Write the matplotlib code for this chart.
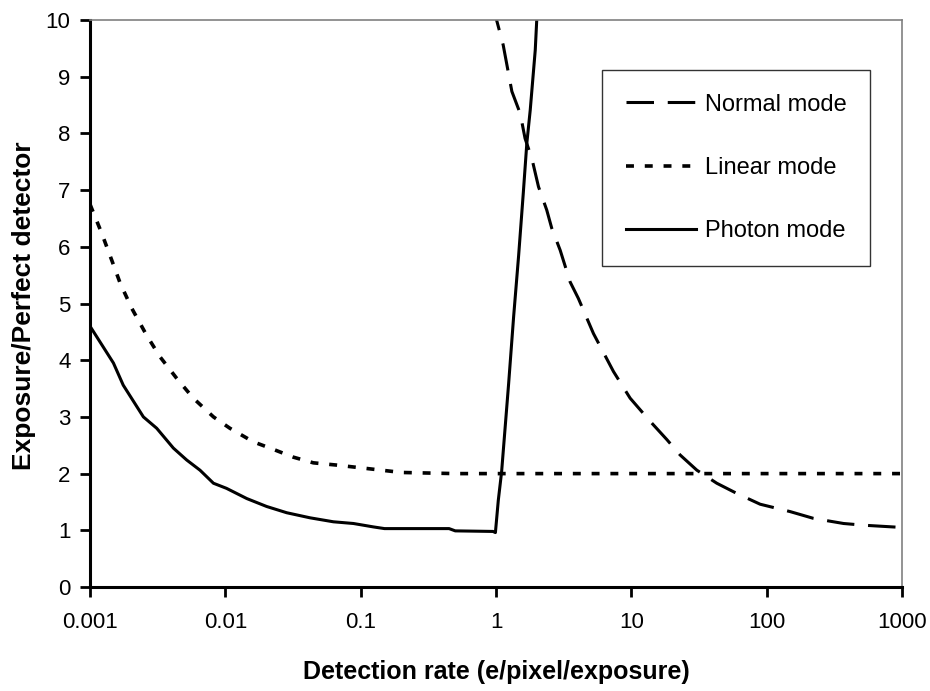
import numpy as np
import matplotlib
matplotlib.use("Agg")
import matplotlib.pyplot as plt
from matplotlib.ticker import FixedLocator, FixedFormatter, NullLocator

plt.rcParams['font.family'] = ['Liberation Sans', 'DejaVu Sans']

# values (x = detection rate, y = exposure / perfect detector)
normal_x = [1.0, 1.01, 1.13, 1.31, 1.51, 1.64, 1.84, 2.06, 2.37, 2.58, 2.98, 3.53, 4.06,
            5.25, 7.38, 9.8, 13.8, 18.3, 22.9, 30.5, 42.8, 60.2, 89.5, 149, 222, 370, 519, 1000]
normal_y = [10.3, 10.0, 9.56, 8.74, 8.35, 7.91, 7.56, 7.06, 6.65, 6.33, 5.94, 5.38, 5.09,
            4.47, 3.80, 3.33, 2.92, 2.60, 2.33, 2.06, 1.83, 1.65, 1.46, 1.33, 1.21, 1.12, 1.09, 1.05]

linear_x = [0.001, 0.00122, 0.00146, 0.00167, 0.00203, 0.00262, 0.00329, 0.00437, 0.0058,
            0.00817, 0.0108, 0.0161, 0.0214, 0.0318, 0.0447, 0.0666, 0.111, 0.2, 0.5, 1, 10, 100, 1000]
linear_y = [6.75, 6.24, 5.74, 5.36, 4.92, 4.44, 4.06, 3.68, 3.33, 3.0, 2.80, 2.56, 2.45,
            2.29, 2.19, 2.15, 2.09, 2.02, 2.0, 2.0, 2.0, 2.0, 2.0]

photon_x = [0.001, 0.00149, 0.00176, 0.00248, 0.00311, 0.00413, 0.00518, 0.0065, 0.00817,
            0.0102, 0.0144, 0.0202, 0.0284, 0.0423, 0.0629, 0.0884, 0.124, 0.15, 0.45, 0.5,
            0.95, 0.99, 1.04, 1.10, 1.24, 1.35, 1.47, 1.59, 1.69, 1.79, 1.95, 2.0, 2.05]
photon_y = [4.6, 3.95, 3.56, 3.0, 2.80, 2.45, 2.24, 2.06, 1.83, 1.74, 1.56, 1.42, 1.31,
            1.22, 1.15, 1.12, 1.06, 1.03, 1.03, 0.99, 0.98, 0.96, 1.53, 2.03, 3.59, 4.77,
            5.85, 6.94, 7.83, 8.41, 9.47, 10.0, 10.5]

x_ticks = [0.001, 0.01, 0.1, 1, 10, 100, 1000]
x_tick_labels = ['0.001', '0.01', '0.1', '1', '10', '100', '1000']
y_ticks = list(range(0, 11))

fig = plt.figure(figsize=(9.3, 6.91), dpi=100)
ax = fig.add_axes([90 / 930, 1 - 587 / 691, 812 / 930, 567 / 691])

ax.plot(normal_x, normal_y, color='black', lw=2.2, dashes=(9, 4.5), label='Normal mode')
ax.plot(linear_x, linear_y, color='black', lw=2.6, dashes=(2.2, 3.0), label='Linear mode')
ax.plot(photon_x, photon_y, color='black', lw=2.2, label='Photon mode')

ax.set_xscale('log')
ax.set_xlim(0.001, 1000)
ax.set_ylim(0, 10)
ax.xaxis.set_major_locator(FixedLocator(x_ticks))
ax.xaxis.set_major_formatter(FixedFormatter(x_tick_labels))
ax.xaxis.set_minor_locator(NullLocator())
ax.set_yticks(y_ticks)

ax.tick_params(axis='both', direction='out', length=7, width=2, labelsize=16)
ax.tick_params(axis='x', pad=11)
ax.tick_params(axis='y', pad=7)

for side in ['left', 'bottom']:
    ax.spines[side].set_linewidth(2.2)
    ax.spines[side].set_color('black')
for side in ['top', 'right']:
    ax.spines[side].set_linewidth(1.2)
    ax.spines[side].set_color('#808080')

ax.set_xlabel('Detection rate (e/pixel/exposure)', fontsize=18, fontweight='bold')
ax.set_ylabel('Exposure/Perfect detector', fontsize=19, fontweight='bold')
ax.xaxis.set_label_coords(0.5, -0.128)
ax.yaxis.set_label_coords(-0.066, 0.497)

leg = ax.legend(loc='upper left', bbox_to_anchor=(602 / 930, 1 - 70 / 691),
                bbox_transform=fig.transFigure, borderaxespad=0, fontsize=17,
                frameon=True, fancybox=False, edgecolor='black', handlelength=3.0,
                handletextpad=0.35, labelspacing=1.75, borderpad=1.0)
leg.get_frame().set_linewidth(1.0)

fig.savefig('out.png', dpi=100)
